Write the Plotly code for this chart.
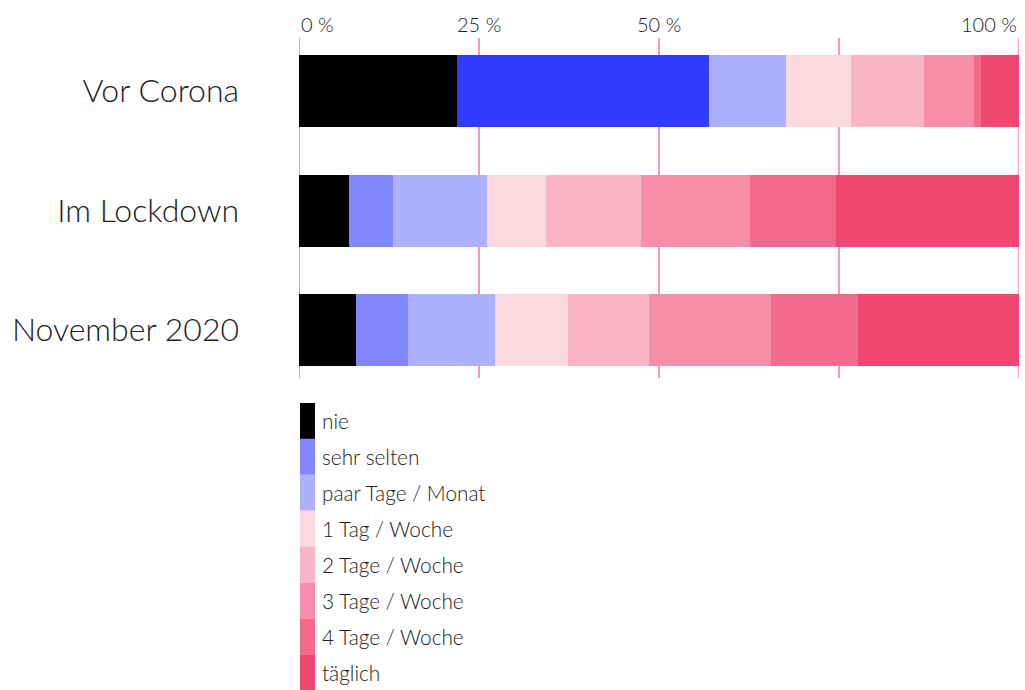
import plotly.graph_objects as go

# ---------------- data ----------------
periods = ["Vor Corona", "Im Lockdown", "November 2020"]
answers = ["nie", "sehr selten", "paar Tage / Monat", "1 Tag / Woche",
           "2 Tage / Woche", "3 Tage / Woche", "4 Tage / Woche", "täglich"]
nie = [21.9, 6.9, 7.9]
sehr_selten = [35.0, 6.1, 7.2]
paar_tage_monat = [10.8, 13.1, 12.1]
tag1_woche = [9.0, 8.2, 10.1]
tage2_woche = [10.1, 13.2, 11.3]
tage3_woche = [6.9, 15.2, 16.9]
tage4_woche = [1.0, 11.9, 12.2]
taeglich = [5.3, 25.4, 22.3]
x_ticks = [0, 25, 50, 75, 100]
x_tick_labels = ["0 %", "25 %", "50 %", "", "100 %"]

series = [nie, sehr_selten, paar_tage_monat, tag1_woche,
          tage2_woche, tage3_woche, tage4_woche, taeglich]
colors = ["#000000", "#8286ff", "#adafff", "#fcd9e0",
          "#f9b5c6", "#f68ea9", "#f26b8c", "#f14672"]
highlight = "#2f3bff"   # highlighted segment (Vor Corona / sehr selten)
GRID = "#f0577f"

FONT = "Lato"
TXT = "#222222"

W, H = 1025, 690
ML, MR, MT, MB = 299, 6, 38, 312
PW, PH = W - ML - MR, H - MT - MB


def px_x(p):
    return (p - ML) / PW


def px_y(p):
    return (H - MB - p) / PH


fig = go.Figure()
for i, (name, vals, col) in enumerate(zip(answers, series, colors)):
    mcol = [col] * len(periods)
    if i == 1:
        mcol[0] = highlight
    fig.add_trace(go.Bar(
        name=name, y=periods, x=vals, orientation="h",
        marker=dict(color=mcol, line=dict(width=0)),
        showlegend=False, hoverinfo="x+y+name",
    ))

# vertical grid lines (below bars)
for v in x_ticks:
    fig.add_shape(type="line", xref="x", yref="paper", x0=v, x1=v, y0=0, y1=1,
                  line=dict(color=GRID, width=1.2), layer="below")

# x tick labels on top
for i, (v, t) in enumerate(zip(x_ticks, x_tick_labels)):
    if not t:
        continue
    anchor = "left" if i == 0 else ("right" if i == len(x_ticks) - 1 else "center")
    fig.add_annotation(x=v, y=px_y(24), xref="x", yref="paper", text=t, showarrow=False,
                       xanchor=anchor, yanchor="middle",
                       font=dict(family=FONT, size=20, color=TXT, weight=300))

# custom legend (tall swatches)
top, step = 403, 35.9
for i, (name, col) in enumerate(zip(answers, colors)):
    y0 = top + i * step
    y1 = y0 + step
    fig.add_shape(type="rect", xref="paper", yref="paper",
                  x0=px_x(300), x1=px_x(315), y0=px_y(y1), y1=px_y(y0),
                  fillcolor=col, line=dict(width=0), layer="above")
    fig.add_annotation(x=px_x(320), y=px_y((y0 + y1) / 2), xref="paper", yref="paper",
                       text=name, showarrow=False, xanchor="left", yanchor="middle",
                       font=dict(family=FONT, size=20.8, color=TXT, weight=300))

fig.update_layout(
    width=W, height=H,
    margin=dict(l=ML, r=MR, t=MT, b=MB, pad=0),
    barmode="stack", bargap=0.398,
    paper_bgcolor="white", plot_bgcolor="white",
    font=dict(family=FONT, color=TXT),
    xaxis=dict(range=[0, 100], tickvals=x_ticks, showticklabels=False,
               showgrid=False, zeroline=False, showline=False, ticks="",
               fixedrange=True),
    yaxis=dict(categoryorder="array", categoryarray=periods,
               range=[2.40, -0.4435], showgrid=False, zeroline=False,
               showline=False, ticks="", ticklabelstandoff=59,
               tickfont=dict(family=FONT, size=32, color=TXT, weight=300),
               fixedrange=True),
)

fig.write_html("out.html", config={"displayModeBar": False},
               post_script="document.body.style.margin='0';document.body.style.padding='0';")
